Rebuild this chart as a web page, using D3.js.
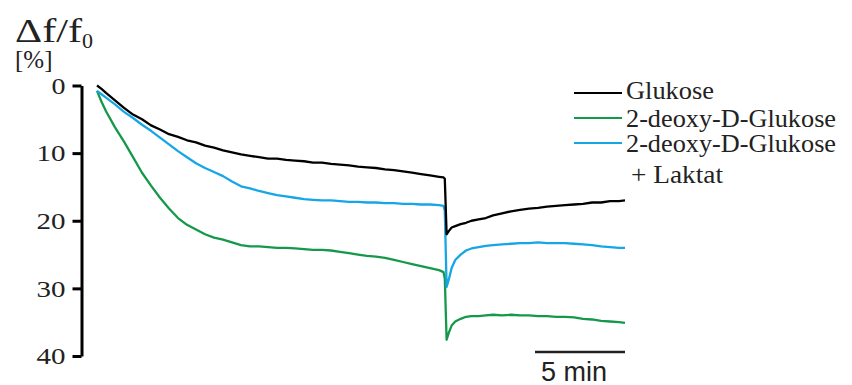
<!DOCTYPE html>
<html>
<head>
<meta charset="utf-8">
<script src="https://cdn.jsdelivr.net/npm/d3@7/dist/d3.min.js"></script>
<style>
  html, body { margin: 0; padding: 0; background: #fff; }
  svg { display: block; }
</style>
</head>
<body>
<svg id="chart" width="852" height="385"></svg>
<script>
// ---- data (time in minutes, signal change in %) ----
const timeMin = [0,0.25,0.5,1,1.5,2,2.5,3,3.5,4,4.5,5,5.5,6,6.5,7,7.5,8,8.5,9,9.5,10,10.5,11,11.5,12,12.5,13,13.5,14,14.5,15,15.5,16,16.5,17,17.5,18,18.5,19,19.25,19.32,19.42,19.55,19.7,19.9,20.2,20.5,20.8,21.2,21.6,22,22.5,23,23.5,24,24.5,25,25.5,26,26.5,27,27.5,28,28.5,29,29.33];

const glukose = [0,0.5,1.1,2.2,3.3,4.3,5.0,5.9,6.5,7.2,7.6,8.1,8.4,8.9,9.2,9.6,9.9,10.2,10.4,10.6,10.8,10.8,11.0,11.1,11.2,11.4,11.4,11.6,11.7,11.8,12.0,12.1,12.2,12.4,12.5,12.7,12.9,13.1,13.3,13.5,13.6,13.8,22.0,21.5,21.0,20.8,20.5,20.3,20.0,19.8,19.6,19.2,18.9,18.6,18.4,18.2,18.1,17.9,17.8,17.7,17.6,17.5,17.3,17.3,17.1,17.1,17.0];

const deoxyGlukose = [0.8,2.4,3.8,6.2,8.3,10.6,12.9,14.8,16.6,18.2,19.6,20.6,21.3,22.0,22.5,22.8,23.2,23.6,23.8,23.8,23.9,24.0,24.0,24.1,24.2,24.3,24.3,24.4,24.6,24.8,25.0,25.2,25.3,25.5,25.8,26.1,26.4,26.7,27.0,27.3,27.6,28.5,37.6,36.5,35.5,34.9,34.5,34.2,34.1,34.1,34.0,33.9,34.0,33.9,34.0,34.0,34.1,34.1,34.2,34.2,34.3,34.5,34.6,34.8,34.9,35.0,35.1];

const deoxyLaktat = [0.8,1.3,1.8,2.8,3.9,4.8,5.8,6.7,7.7,8.7,9.7,10.6,11.5,12.2,12.8,13.4,14.2,14.9,15.2,15.6,15.9,16.2,16.4,16.6,16.8,16.9,17.0,17.0,17.1,17.2,17.2,17.3,17.3,17.4,17.4,17.5,17.5,17.6,17.6,17.7,17.8,18.5,29.8,28.6,27.0,25.8,25.0,24.4,24.1,23.9,23.7,23.6,23.5,23.4,23.3,23.3,23.2,23.3,23.3,23.3,23.4,23.5,23.6,23.8,23.9,24.0,24.0];

const yTicks = [0, 10, 20, 30, 40];
const seriesNames = ["Glukose", "2-deoxy-D-Glukose", "2-deoxy-D-Glukose"];
const legendExtra = "+ Laktat";
const scaleBarMinutes = 5;
const scaleBarLabel = "5 min";

// ---- drawing ----
const svg = d3.select("#chart");
const serif = "'Liberation Serif','Times New Roman',Times,serif";
const sans = "'Liberation Sans',Arial,Helvetica,sans-serif";

const x = d3.scaleLinear().domain([0, 29.33]).range([97, 625]);
const y = d3.scaleLinear().domain([0, 40]).range([85.5, 356]);

const colors = { black: "#000000", green: "#14994a", blue: "#16a6e6" };

// y axis (line + ticks from d3 axis, labels placed separately)
const axisX = 81.5;
const yAxis = d3.axisLeft(y).tickValues(yTicks).tickSize(9).tickSizeOuter(0).tickFormat("");
const gAxis = svg.append("g").attr("transform", `translate(${axisX},0)`).call(yAxis);
gAxis.select(".domain").attr("stroke", "#000").attr("stroke-width", 3);
gAxis.selectAll(".tick line").attr("stroke", "#000").attr("stroke-width", 3);
gAxis.selectAll(".tick text").remove();

svg.append("g").selectAll("text").data(yTicks).join("text")
  .attr("x", 65.5).attr("y", d => y(d)).attr("dy", "0.34em")
  .attr("text-anchor", "end")
  .attr("font-family", serif).attr("font-size", 24).attr("fill", "#222")
  .attr("textLength", d => String(d).length * 15 - 1)
  .attr("lengthAdjust", "spacingAndGlyphs")
  .text(d => String(d));

// title
svg.append("text").attr("x", 15).attr("y", 42)
  .attr("font-family", serif).attr("font-size", 33).attr("fill", "#222")
  .attr("textLength", 67).attr("lengthAdjust", "spacingAndGlyphs").text("Δf/f");
svg.append("text").attr("x", 82).attr("y", 48)
  .attr("font-family", serif).attr("font-size", 22).attr("fill", "#222").text("0");
svg.append("text").attr("x", 15).attr("y", 68)
  .attr("font-family", serif).attr("font-size", 25).attr("fill", "#222").text("[%]");

// lines
const line = d3.line().x((d, i) => x(timeMin[i])).y(d => y(d));
[[deoxyGlukose, colors.green], [deoxyLaktat, colors.blue], [glukose, colors.black]].forEach(([vals, c]) => {
  svg.append("path").datum(vals).attr("d", line)
    .attr("fill", "none").attr("stroke", c).attr("stroke-width", 2.3)
    .attr("stroke-linejoin", "round");
});

// legend
const legend = [
  { name: seriesNames[0], color: colors.black, ly: 93, ty: 99, w: 88 },
  { name: seriesNames[1], color: colors.green, ly: 118, ty: 126.5, w: 210 },
  { name: seriesNames[2], color: colors.blue, ly: 143, ty: 151.5, w: 210 }
];
legend.forEach(l => {
  svg.append("line").attr("x1", 574).attr("x2", 622).attr("y1", l.ly).attr("y2", l.ly)
    .attr("stroke", l.color).attr("stroke-width", 2.2);
  svg.append("text").attr("x", 626).attr("y", l.ty)
    .attr("font-family", serif).attr("font-size", 25).attr("fill", "#222")
    .attr("textLength", l.w).attr("lengthAdjust", "spacingAndGlyphs").text(l.name);
});
svg.append("text").attr("x", 631).attr("y", 183)
  .attr("font-family", serif).attr("font-size", 25).attr("fill", "#222")
  .attr("textLength", 92).attr("lengthAdjust", "spacingAndGlyphs").text(legendExtra);

// scale bar
const tEnd = timeMin[timeMin.length - 1];
svg.append("line").attr("x1", x(tEnd - scaleBarMinutes)).attr("x2", x(tEnd))
  .attr("y1", 352).attr("y2", 352).attr("stroke", "#222").attr("stroke-width", 2.5);
svg.append("text").attr("x", 541).attr("y", 380.5)
  .attr("font-family", sans).attr("font-size", 27).attr("fill", "#222").text(scaleBarLabel);
</script>
</body>
</html>
